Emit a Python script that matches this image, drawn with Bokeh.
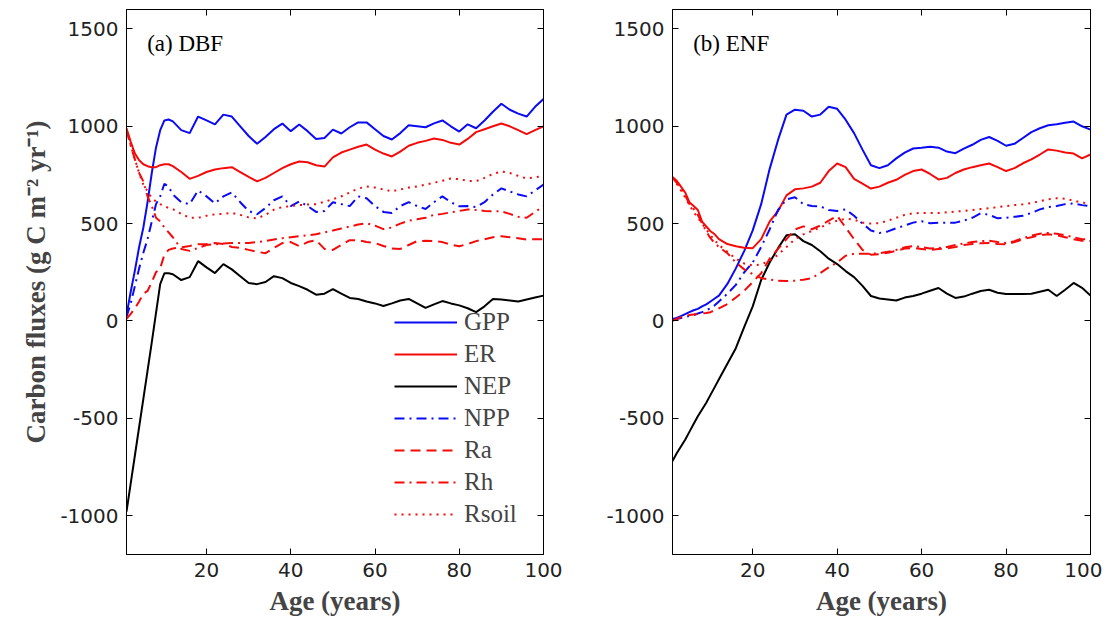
from bokeh.plotting import figure
from bokeh.models import LinearAxis, FixedTicker, Label, Legend, LegendItem, Range1d, PrintfTickFormatter
from bokeh.layouts import row
from bokeh.embed import file_html
from bokeh.resources import INLINE

# ---------------- data ----------------
age = [1, 2, 3, 4, 5, 6, 7, 8, 9, 10, 11, 12, 14, 16, 18, 20, 22, 24, 26, 28, 30,
       32, 34, 36, 38, 40, 42, 44, 46, 48, 50, 52, 54, 56, 58, 60, 62, 64, 66, 68,
       70, 72, 74, 76, 78, 80, 82, 84, 86, 88, 90, 92, 94, 96, 98, 100]

# (a) DBF
dbf_gpp = [30, 150, 260, 380, 480, 610, 760, 890, 980, 1030, 1035, 1025, 980, 965, 1050, 1030,
           1010, 1060, 1050, 1000, 950, 910, 945, 985, 1014, 975, 1009, 975, 935, 940, 983, 963,
           995, 1020, 1020, 985, 950, 932, 965, 1005, 1000, 995, 1015, 1030, 1000, 973, 1010,
           990, 1030, 1075, 1116, 1085, 1065, 1050, 1100, 1140]
dbf_er = [990, 920, 860, 825, 805, 795, 790, 790, 800, 805, 805, 795, 765, 730, 745, 765, 778,
          785, 790, 765, 740, 717, 735, 760, 785, 805, 819, 815, 800, 793, 840, 865, 880, 895,
          906, 880, 860, 845, 870, 900, 915, 925, 937, 930, 915, 906, 935, 970, 985, 1000, 1014,
          1000, 980, 960, 980, 1000]
dbf_nep = [-980, -835, -690, -545, -400, -255, -110, 40, 189, 245, 245, 240, 210, 225, 307, 275,
           246, 292, 265, 230, 195, 189, 200, 230, 220, 195, 179, 160, 135, 140, 164, 140, 118,
           113, 100, 90, 77, 90, 105, 113, 90, 67, 85, 102, 90, 80, 65, 45, 75, 113, 110, 105,
           100, 110, 120, 130]
dbf_npp = [20, 90, 180, 270, 350, 420, 510, 600, 640, 705, 690, 650, 610, 600, 670, 640, 604,
           640, 660, 610, 565, 548, 580, 620, 640, 590, 614, 590, 560, 565, 610, 600, 590, 640,
           630, 590, 560, 555, 590, 610, 590, 575, 610, 640, 610, 589, 590, 585, 610, 650, 681,
           665, 650, 640, 670, 700]
dbf_ra = [10, 36, 65, 100, 140, 154, 200, 250, 271, 340, 365, 372, 378, 385, 394, 395, 400, 395,
          380, 375, 365, 355, 348, 375, 400, 405, 384, 405, 415, 370, 365, 390, 415, 415, 405,
          400, 385, 372, 370, 390, 410, 412, 410, 405, 392, 384, 395, 410, 420, 430, 435, 430,
          425, 418, 420, 420]
dbf_rh = [980, 900, 830, 760, 717, 640, 590, 530, 512, 480, 455, 430, 370, 360, 375, 390, 394,
          398, 400, 400, 400, 405, 410, 418, 425, 430, 435, 440, 445, 455, 465, 475, 485, 495,
          502, 490, 472, 480, 500, 515, 522, 530, 545, 550, 558, 565, 573, 570, 565, 563, 563,
          550, 535, 530, 560, 590]
dbf_rsoil = [985, 905, 830, 760, 700, 666, 630, 614, 600, 590, 580, 575, 550, 530, 530, 540,
             548, 550, 555, 545, 532, 527, 545, 572, 585, 590, 595, 598, 600, 612, 625, 640, 660,
             680, 691, 685, 675, 666, 675, 685, 691, 700, 710, 720, 732, 728, 720, 718, 735, 755,
             768, 760, 745, 732, 738, 745]

# (b) ENF
enf_gpp = [10, 15, 25, 35, 45, 55, 62, 75, 85, 100, 115, 130, 190, 270, 360, 465, 600, 780, 930,
           1060, 1085, 1080, 1050, 1060, 1100, 1090, 1034, 965, 880, 800, 785, 800, 835, 865,
           886, 890, 895, 890, 870, 862, 885, 905, 930, 945, 925, 900, 910, 940, 970, 990, 1005,
           1010, 1018, 1024, 1000, 983]
enf_er = [740, 720, 690, 660, 610, 590, 570, 510, 485, 461, 445, 420, 395, 384, 376, 374, 420,
          510, 565, 645, 676, 681, 690, 710, 770, 809, 790, 730, 705, 680, 690, 710, 725, 750,
          770, 778, 755, 727, 735, 760, 778, 790, 800, 809, 790, 770, 785, 810, 830, 855, 881,
          875, 865, 860, 835, 855]
enf_nep = [-720, -680, -645, -610, -570, -530, -490, -455, -420, -380, -340, -300, -220, -140,
           -30, 75, 210, 300, 374, 440, 445, 410, 390, 358, 320, 292, 256, 225, 180, 128, 115,
           110, 105, 120, 128, 140, 155, 169, 140, 118, 125, 140, 154, 160, 145, 138, 138, 138,
           140, 150, 160, 128, 160, 195, 170, 130]
enf_npp = [5, 10, 15, 20, 25, 30, 38, 45, 55, 65, 80, 100, 140, 185, 250, 300, 380, 470, 570,
           625, 635, 600, 590, 589, 570, 565, 573, 540, 500, 465, 452, 460, 476, 490, 505, 512,
           502, 505, 505, 505, 515, 530, 553, 545, 527, 530, 535, 540, 555, 573, 585, 590, 600,
           604, 595, 589]
enf_ra = [0, 10, 20, 25, 30, 33, 36, 38, 41, 45, 55, 65, 87, 120, 155, 200, 245, 320, 370, 420,
          470, 486, 471, 490, 515, 540, 480, 420, 365, 340, 343, 350, 360, 372, 375, 370, 365,
          369, 372, 380, 390, 395, 399, 400, 395, 394, 405, 420, 430, 440, 445, 440, 430, 420,
          412, 410]
enf_rh = [735, 710, 680, 645, 600, 575, 545, 500, 460, 425, 400, 380, 348, 300, 265, 240, 220,
          212, 207, 205, 207, 212, 220, 246, 275, 300, 335, 345, 345, 345, 348, 355, 365, 378,
          385, 380, 372, 375, 380, 390, 398, 405, 410, 412, 405, 400, 410, 425, 438, 448, 452,
          448, 440, 430, 420, 418]
enf_rsoil = [735, 705, 670, 635, 595, 560, 530, 500, 470, 440, 415, 390, 355, 320, 295, 285,
             290, 310, 340, 380, 420, 445, 462, 480, 500, 515, 525, 520, 505, 500, 502, 515, 530,
             545, 553, 555, 555, 555, 558, 562, 565, 570, 575, 579, 585, 590, 595, 599, 605, 615,
             625, 630, 628, 618, 608, 604]

series_names = ["GPP", "ER", "NEP", "NPP", "Ra", "Rh", "Rsoil"]
series_colors = ["#0a0af5", "#f50a0a", "#000000", "#0a0af5", "#f50a0a", "#f50a0a", "#f50a0a"]
series_dashes = ["solid", "solid", "solid", "10 5 2 5", "10 6", "10 5 2 5", "2 5"]

x_ticks = [20, 40, 60, 80, 100]
y_ticks = [-1000, -500, 0, 500, 1000, 1500]

TICK_FONT = "DejaVu Sans"
SERIF = "Liberation Serif"


def make_panel(values, title, border_left, border_right, ylabel, legend):
    p = figure(frame_width=417 if ylabel else 418, frame_height=545,
               min_border_left=border_left, min_border_right=border_right,
               min_border_top=9, min_border_bottom=62,
               x_range=Range1d(1, 100), y_range=Range1d(-1200, 1600),
               output_backend="svg", toolbar_location=None,
               background_fill_color="white", border_fill_color="white")
    p.xgrid.visible = False
    p.ygrid.visible = False
    p.outline_line_color = "black"
    p.outline_line_width = 1

    for ax, ticks in ((p.xaxis[0], x_ticks), (p.yaxis[0], y_ticks)):
        ax.ticker = FixedTicker(ticks=ticks)
        ax.formatter = PrintfTickFormatter(format="%d")
        ax.major_tick_in = 6
        ax.major_tick_out = 0
        ax.minor_tick_line_color = None
        ax.axis_line_color = "black"
        ax.major_tick_line_color = "black"
        ax.major_label_text_font = TICK_FONT
        ax.major_label_text_font_size = "20px"
        ax.major_label_text_color = "#222222"
        ax.major_label_standoff = 8
    p.xaxis.axis_label = "Age (years)"
    p.xaxis.axis_label_text_font = SERIF
    p.xaxis.axis_label_text_font_style = "bold"
    p.xaxis.axis_label_text_font_size = "27px"
    p.xaxis.axis_label_standoff = 6
    if ylabel:
        p.yaxis.axis_label = "Carbon fluxes (g C m\u207b\u00b2 yr\u207b\u00b9)"
        p.yaxis.axis_label_text_font = SERIF
        p.yaxis.axis_label_text_font_style = "bold"
        p.yaxis.axis_label_text_font_size = "27px"
        p.yaxis.axis_label_standoff = 6

    for loc, ticks in (("right", y_ticks), ("above", x_ticks)):
        ax = LinearAxis(ticker=FixedTicker(ticks=ticks))
        ax.major_tick_in = 6
        ax.major_tick_out = 0
        ax.minor_tick_line_color = None
        ax.major_label_text_color = None
        ax.major_label_text_font_size = "1px"
        ax.major_label_standoff = 0
        p.add_layout(ax, loc)

    renderers = []
    for vals, col, dash in zip(values, series_colors, series_dashes):
        r = p.line(age, vals, line_color=col, line_width=2, line_dash=dash)
        renderers.append(r)

    p.add_layout(Label(x=5.9, y=1425, text=title, text_font=SERIF, text_font_size="23px",
                       text_baseline="middle", text_color="black"))

    if legend:
        items = [LegendItem(label=n, renderers=[r]) for n, r in zip(series_names, renderers)]
        lg = Legend(items=items, location=(264, 22), label_text_font=SERIF,
                    label_text_font_size="25px", glyph_width=63, glyph_height=26,
                    label_height=26, spacing=4, padding=4, margin=0,
                    label_standoff=7, border_line_alpha=0, background_fill_alpha=0)
        p.add_layout(lg)
    return p


p1 = make_panel([dbf_gpp, dbf_er, dbf_nep, dbf_npp, dbf_ra, dbf_rh, dbf_rsoil],
                "(a) DBF", 126, 57, True, True)
p2 = make_panel([enf_gpp, enf_er, enf_nep, enf_npp, enf_ra, enf_rh, enf_rsoil],
                "(b) ENF", 72, 12, False, False)

layout = row(p1, p2)
open("out.html", "w").write(file_html(layout, INLINE))
